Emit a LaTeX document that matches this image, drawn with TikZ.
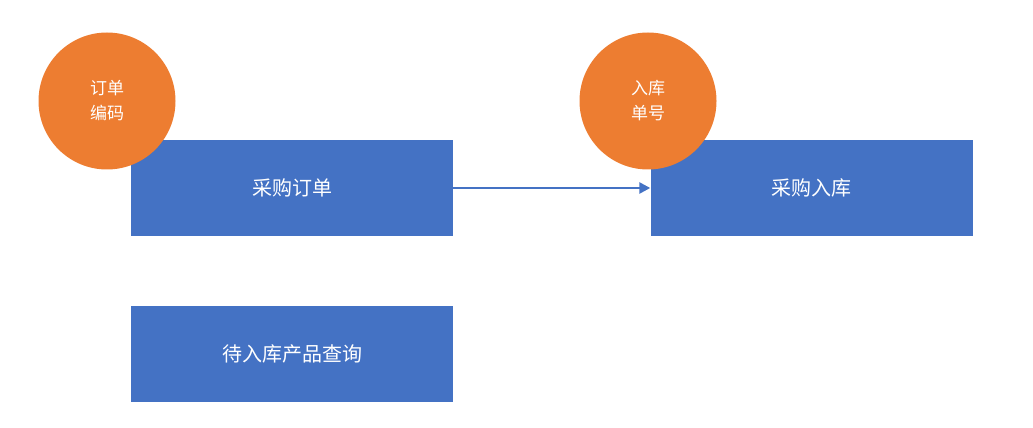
\documentclass[tikz,border=0pt]{standalone}
\usepackage{fontspec}
\newfontfamily\cjk{Noto Sans CJK SC}
\definecolor{boxblue}{HTML}{4472C4}
\definecolor{circorange}{HTML}{ED7D31}
\tikzset{
  box/.style={fill=boxblue, draw=none, minimum width=322pt, minimum height=96pt, inner sep=0pt, text=white, font=\cjk\fontsize{20}{24}\selectfont},
  badge/.style={circle, fill=circorange, draw=none, minimum size=137pt, inner sep=0pt, text=white, align=center, font=\cjk\fontsize{17}{25}\selectfont},
  conn/.style={draw=boxblue, line width=2.5pt, -{Triangle[length=11pt,width=11pt]}}
}
\usetikzlibrary{arrows.meta}
\begin{document}
\begin{tikzpicture}[x=1pt,y=1pt]
\useasboundingbox (0,0) rectangle (1033,428);
\node[box] (po) at (292,240) {采购订单};
\node[box] (in) at (811.5,240) {采购入库};
\node[box] (q) at (292,74) {待入库产品查询};
\node[badge] (c1) at (107,327) {订单\\编码};
\node[badge] (c2) at (648,327) {入库\\单号};
\draw[conn] (po.east) -- (in.west);
\end{tikzpicture}
\end{document}
